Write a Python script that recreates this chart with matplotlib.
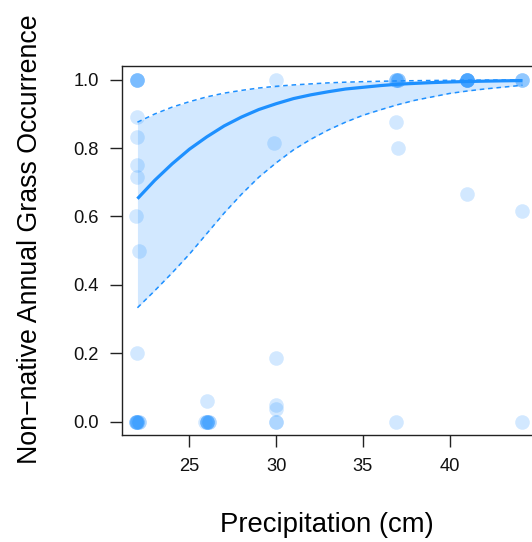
import matplotlib
matplotlib.use("Agg")
import matplotlib.pyplot as plt

plt.rcParams['font.family'] = ['Liberation Sans', 'DejaVu Sans']

# observations: precipitation (cm) vs. occurrence proportion
precip = [22.0, 22.0, 22.0, 22.0,
          21.9, 22.0, 22.1, 21.9, 22.0, 22.1, 22.0, 21.9,
          22.0, 22.0, 22.0, 22.0, 21.9, 22.1, 22.0,
          26.0, 26.1, 25.9, 26.0, 26.1, 26.0, 26.0, 26.0,
          30.0, 29.9, 30.0, 30.0, 30.0, 30.0, 30.0,
          36.9, 37.0, 36.9, 37.0, 36.9, 37.0, 36.9, 37.0, 36.9,
          41.0, 41.0, 41.0, 41.0, 41.0, 41.0, 41.0, 41.0,
          44.2, 44.2, 44.2, 44.2, 44.2]
occur = [1.0, 1.0, 1.0, 1.0,
         0.0, 0.0, 0.0, 0.0, 0.0, 0.0, 0.0, 0.0,
         0.89, 0.834, 0.751, 0.715, 0.60, 0.50, 0.20,
         0.0, 0.0, 0.0, 0.0, 0.0, 0.0, 0.0, 0.059,
         1.0, 0.815, 0.186, 0.049, 0.036, 0.0, 0.0,
         1.0, 1.0, 1.0, 1.0, 1.0, 1.0, 0.876, 0.80, 0.0,
         1.0, 1.0, 1.0, 1.0, 1.0, 1.0, 1.0, 0.667,
         1.0, 1.0, 1.0, 0.616, 0.0]

# fitted logistic curve with 95% band
fit_x = [22, 23, 24, 25, 26, 27, 28, 29, 30, 31, 32, 33, 34, 35, 36,
         37, 38, 39, 40, 41, 42, 43, 44, 44.2]
fit_p = [0.652, 0.706, 0.754, 0.797, 0.833, 0.865, 0.891, 0.913, 0.930,
         0.945, 0.956, 0.965, 0.973, 0.978, 0.983, 0.987, 0.9895, 0.9918,
         0.9936, 0.9950, 0.9960, 0.9969, 0.9976, 0.9977]
fit_lo = [0.333, 0.383, 0.435, 0.490, 0.550, 0.610, 0.665, 0.715, 0.757,
          0.795, 0.826, 0.853, 0.876, 0.896, 0.912, 0.927, 0.940, 0.950,
          0.960, 0.967, 0.973, 0.978, 0.983, 0.984]
fit_hi = [0.876, 0.900, 0.920, 0.936, 0.950, 0.961, 0.969, 0.976, 0.981,
          0.985, 0.988, 0.991, 0.993, 0.9945, 0.9957, 0.9967, 0.9974, 0.998,
          0.9985, 0.9988, 0.9991, 0.9993, 0.9994, 0.9995]

x_ticks = [25, 30, 35, 40]
y_ticks = [0.0, 0.2, 0.4, 0.6, 0.8, 1.0]

blue = '#1E90FF'

fig = plt.figure(figsize=(5.32, 5.42), dpi=100)
ax = fig.add_axes([0.229, 0.197, 0.792, 0.681])

ax.fill_between(fit_x, fit_lo, fit_hi, color=blue, alpha=0.2, linewidth=0)
ax.plot(fit_x, fit_lo, color=blue, lw=1.1, ls=(0, (3, 2.5)))
ax.plot(fit_x, fit_hi, color=blue, lw=1.1, ls=(0, (3, 2.5)))
ax.plot(fit_x, fit_p, color=blue, lw=2.3, solid_capstyle='butt')
ax.scatter(precip, occur, s=110, color=blue, alpha=0.2, linewidths=0, zorder=3)

ax.set_xlim(21.1, 45.4)
ax.set_ylim(-0.04, 1.04)
ax.set_xticks(x_ticks)
ax.set_yticks(y_ticks)
ax.set_yticklabels(['%.1f' % v for v in y_ticks])

for s in ax.spines.values():
    s.set_linewidth(1.0)
    s.set_color('#222222')
ax.tick_params(length=8.5, width=1.0, color='#222222', labelsize=13.2,
               labelcolor='#111111')
ax.tick_params(axis='x', pad=8)
ax.tick_params(axis='y', pad=8)

# labels sit at fixed figure positions (label box is wider than the visible area)
fig.text(327 / 532, 1 - 525 / 542, 'Precipitation (cm)', fontsize=19.8,
         ha='center', va='center')
fig.text(30 / 532, 1 - 239 / 542, 'Non\u2212native Annual Grass Occurrence',
         fontsize=19.3, rotation=90, ha='center', va='center')

fig.savefig('out.png', dpi=100)
